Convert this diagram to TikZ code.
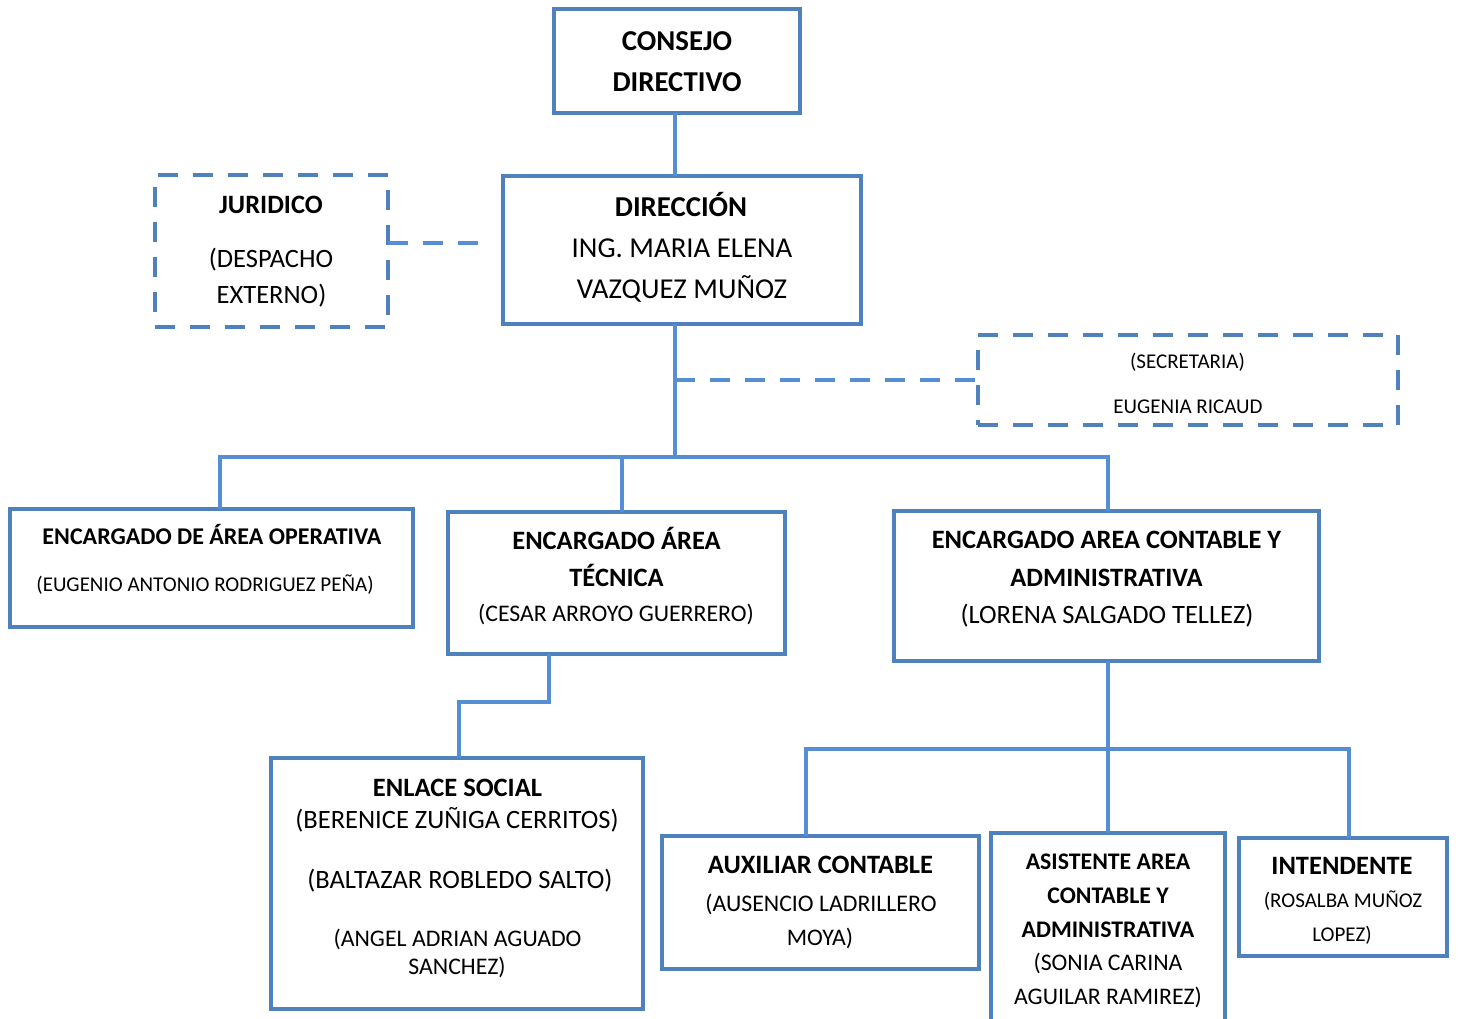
\documentclass[tikz,border=0pt]{standalone}
\usepackage{fontspec}
\setmainfont{Carlito}
\definecolor{boxc}{HTML}{4F81BD}
\definecolor{linec}{HTML}{558ED5}
\begin{document}
\begin{tikzpicture}[x=1pt,y=-1pt,
  box/.style={draw=boxc, line width=4pt, rectangle, inner sep=0pt, outer sep=0pt},
  dbox/.style={box, dash pattern=on 20pt off 15pt},
  conn/.style={draw=linec, line width=4pt},
  dconn/.style={conn, dash pattern=on 20pt off 15pt},
  tx/.style={anchor=base, inner sep=0pt, outer sep=0pt, text=black},
  fA/.style={font=\fontsize{28.8}{34}\selectfont},
  fAb/.style={font=\fontsize{28.8}{34}\selectfont\bfseries},
  fL/.style={font=\fontsize{26.5}{32}\selectfont},
  fLb/.style={font=\fontsize{26.5}{32}\selectfont\bfseries},
  fM/.style={font=\fontsize{23.8}{29}\selectfont},
  fMb/.style={font=\fontsize{23.8}{29}\selectfont\bfseries},
  fS/.style={font=\fontsize{21}{26}\selectfont},
  fSb/.style={font=\fontsize{24}{29}\selectfont\bfseries}]
\path[use as bounding box] (0,0) rectangle (1458,1018);
\clip (0,0) rectangle (1458,1018);

% boxes
\node[box, minimum width=246pt, minimum height=104pt] (consejo) at (677,61) {};
\node[box, minimum width=358pt, minimum height=148pt] (direccion) at (682,250) {};
\node[dbox, minimum width=233pt, minimum height=152pt] (juridico) at (271.5,251) {};
\node[dbox, minimum width=420pt, minimum height=90pt] (secretaria) at (1188,380) {};
\node[box, minimum width=403pt, minimum height=118pt] (operativa) at (211.5,568) {};
\node[box, minimum width=337pt, minimum height=142pt] (tecnica) at (616.5,583) {};
\node[box, minimum width=425pt, minimum height=150pt] (contable) at (1106.5,586) {};
\node[box, minimum width=372pt, minimum height=251pt] (enlace) at (457,883.5) {};
\node[box, minimum width=317pt, minimum height=133pt] (auxiliar) at (820.5,902.5) {};
\node[box, minimum width=234pt, minimum height=200pt] (asistente) at (1108,933) {};
\node[box, minimum width=208pt, minimum height=118pt] (intendente) at (1343,897) {};

% helper coordinates
\coordinate (trunk) at (675,456);
\coordinate (busL) at (220,457);
\coordinate (busT) at (622,457);
\coordinate (busR) at (1108,457);
\coordinate (jy) at (0,243);
\coordinate (e1) at (549,702);
\coordinate (e2) at (459,702);
\coordinate (b2) at (1108,749);
\coordinate (b2L) at (806,749);
\coordinate (b2R) at (1349,749);

% connectors
\draw[conn] (consejo.south -| trunk) -- (direccion.north -| trunk);
\draw[conn] (direccion.south -| trunk) -- (trunk);
\draw[conn] (operativa.north -| busL) -- (busL) -- (busR) -- (contable.north -| busR);
\draw[conn] (busT) -- (tecnica.north -| busT);
\draw[conn] (tecnica.south -| e1) -- (e1) -- (e2) -- (enlace.north -| e2);
\draw[conn] (contable.south -| b2) -- (asistente.north -| b2);
\draw[conn] (auxiliar.north -| b2L) -- (b2L) -- (b2R) -- (intendente.north -| b2R);
\draw[dconn, shorten >=15pt] (juridico.east |- jy) -- (direccion.west |- jy);
\draw[dconn] (trunk |- secretaria.west) -- (secretaria.west);

% texts
\node[tx, fAb] (consejo1) at (677,50) {CONSEJO};
\node[tx, fAb] (consejo2) at (677,91) {DIRECTIVO};

\node[tx, fAb] (dir1) at (681,216) {DIRECCIÓN};
\node[tx, fA] (dir2) at (682,257) {ING. MARIA ELENA};
\node[tx, fA] (dir3) at (682,298) {VAZQUEZ MUÑOZ};

\node[tx, fLb] (jur1) at (271,213) {JURIDICO};
\node[tx, fL] (jur2) at (271,267) {(DESPACHO};
\node[tx, fL] (jur3) at (271.5,303) {EXTERNO)};

\node[tx, fS] (sec1) at (1187.5,368) {(SECRETARIA)};
\node[tx, fS] (sec2) at (1188,413) {EUGENIA RICAUD};

\node[tx, fSb] (ope1) at (212,544) {ENCARGADO DE ÁREA OPERATIVA};
\node[tx, fS] (ope2) at (205,591) {(EUGENIO ANTONIO RODRIGUEZ PEÑA)};

\node[tx, fLb] (tec1) at (616.5,549) {ENCARGADO ÁREA};
\node[tx, fLb] (tec2) at (616.5,586) {TÉCNICA};
\node[tx, fM] (tec3) at (616,621) {(CESAR ARROYO GUERRERO)};

\node[tx, fLb] (con1) at (1106.5,548) {ENCARGADO AREA CONTABLE Y};
\node[tx, fLb] (con2) at (1106.5,586) {ADMINISTRATIVA};
\node[tx, fL] (con3) at (1107,623) {(LORENA SALGADO TELLEZ)};

\node[tx, fLb] (enl1) at (457.5,796) {ENLACE SOCIAL};
\node[tx, fL] (enl2) at (457,828) {(BERENICE ZUÑIGA CERRITOS)};
\node[tx, fL] (enl3) at (460,888) {(BALTAZAR ROBLEDO SALTO)};
\node[tx, fM] (enl4) at (457.5,946) {(ANGEL ADRIAN AGUADO};
\node[tx, fM] (enl5) at (457,974) {SANCHEZ)};

\node[tx, fLb] (aux1) at (820.5,873) {AUXILIAR CONTABLE};
\node[tx, fM] (aux2) at (821,911) {(AUSENCIO LADRILLERO};
\node[tx, fM] (aux3) at (820,945) {MOYA)};

\node[tx, fMb] (asi1) at (1108,869) {ASISTENTE AREA};
\node[tx, fMb] (asi2) at (1108,903) {CONTABLE Y};
\node[tx, fMb] (asi3) at (1108,937) {ADMINISTRATIVA};
\node[tx, fM] (asi4) at (1108,970) {(SONIA CARINA};
\node[tx, fM] (asi5) at (1108,1004) {AGUILAR RAMIREZ)};

\node[tx, fLb] (int1) at (1342,874) {INTENDENTE};
\node[tx, fS] (int2) at (1343,907) {(ROSALBA MUÑOZ};
\node[tx, fS] (int3) at (1342,941) {LOPEZ)};
\end{tikzpicture}
\end{document}
